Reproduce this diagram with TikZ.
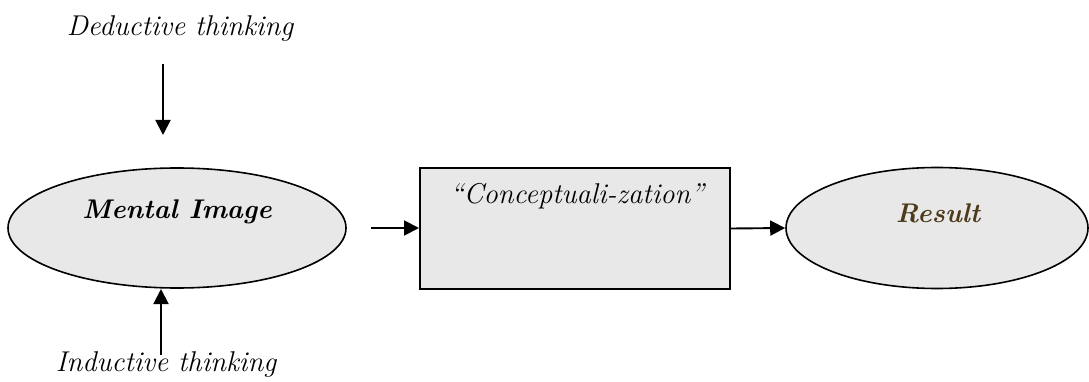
\documentclass[tikz,border=0pt]{standalone}
\usetikzlibrary{arrows.meta,shapes.geometric}
\definecolor{stone}{RGB}{232,232,232}
\definecolor{resbrown}{RGB}{76,58,26}
\begin{document}
\begin{tikzpicture}[x=1pt,y=-1pt,
  lbl/.style={inner sep=0pt,font=\fontsize{28.6}{34}\selectfont\itshape},
  blbl/.style={inner sep=0pt,font=\fontsize{27}{32}\selectfont\bfseries\itshape},
  oval/.style={ellipse,draw,line width=1.6pt,fill=stone,inner sep=0pt},
  boxed/.style={rectangle,draw,line width=1.8pt,fill=stone,inner sep=0pt},
  arr/.style={line width=1.9pt,-{Triangle[length=15pt,width=15pt]}}]
\useasboundingbox (0,0) rectangle (1089,382);
\node[lbl] (ded) at (180,28) {Deductive thinking};
\node[oval,minimum width=338,minimum height=120] (mi) at (177,228) {};
\node[blbl] (mitext) at (177,212) {Mental Image};
\node[lbl] (ind) at (166,364) {Inductive thinking};
\node[boxed,minimum width=310,minimum height=121] (box) at (575,228.5) {};
\node[lbl] (boxtext) at (577,196) {``Conceptuali-zation''};
\node[oval,minimum width=302,minimum height=121] (res) at (937,228) {};
\node[blbl,text=resbrown] (restext) at (938,213) {Result};
\coordinate (d1) at (163,64);
\coordinate (d2) at (163,135);
\coordinate (u1) at (161,355);
\coordinate (u2) at (161,289);
\coordinate (m1) at (371,228);
\coordinate (m2) at (419,228);
\draw[arr] (d1) -- (d2);
\draw[arr] (u1) -- (u2);
\draw[arr] (m1) -- (m2);
\draw[arr] (box.east) -- (res.west);
\end{tikzpicture}
\end{document}
